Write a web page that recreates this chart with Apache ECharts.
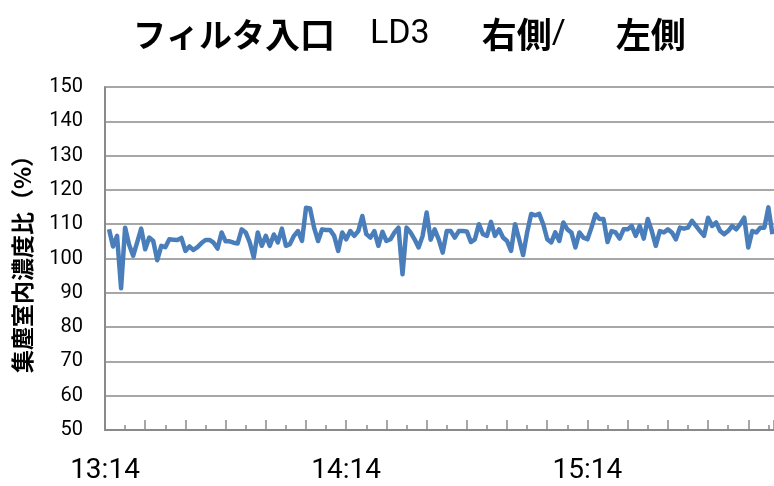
<!DOCTYPE html>
<html>
<head>
<meta charset="utf-8">
<script src="https://cdn.jsdelivr.net/npm/echarts@6/dist/echarts.min.js"></script>
<style>
  html, body { margin: 0; padding: 0; background: #fff; }
  #chart { width: 774px; height: 486px; }
</style>
</head>
<body>
<div id="chart"></div>
<script>
// 開始時刻 13:14 から 1 分ごとのサンプル（1 分目から）
var startHour = 13;
var startMinute = 14;
var firstSample = 1;
var ratio = [
  108.5, 103.5, 106.6, 91.3, 109, 104, 100.8, 104.7, 108.7, 102.7,
  106.1, 105.1, 99.5, 103.7, 103.3, 105.6, 105.5, 105.4, 106, 102.2,
  103.5, 102.5, 103.3, 104.5, 105.4, 105.4, 104.6, 102.9, 107.6, 105,
  105, 104.6, 104.4, 108.5, 107.6, 104.7, 100.3, 107.6, 103.7, 106.6,
  103.7, 107, 104.7, 108.7, 103.7, 104.2, 106.6, 108, 105.1, 114.8,
  114.6, 109, 105.1, 108.5, 108.3, 108.3, 106.6, 102.2, 107.6, 105.6,
  108, 106.6, 108, 112.4, 107.1, 106.1, 108, 103.7, 107.8, 105.1,
  105.6, 107.6, 109, 95.4, 109, 107.6, 105.6, 103.2, 106.6, 113.4,
  105.5, 108.5, 105.6, 101.7, 108, 108, 106.1, 108, 108, 107.9,
  104.8, 105.6, 110, 107.1, 106.6, 110.7, 106.6, 108.5, 106.1, 105.1,
  102.2, 110, 105.6, 101, 107.6, 113, 112.6, 113, 110, 105.6,
  104.7, 107.6, 105.1, 110.5, 108.5, 107.6, 103.2, 107.6, 106.1, 105.6,
  109, 112.9, 111.5, 111.5, 104.8, 108, 107.6, 105.8, 108.5, 108.5,
  109.5, 106.6, 109.5, 105.8, 111.5, 108, 103.7, 108, 107.6, 108.5,
  107.6, 105.6, 109, 108.7, 109, 111, 109.5, 108, 106.6, 111.9,
  109.5, 110.5, 108, 107.1, 108, 109.5, 108.5, 110, 111.9, 103.2,
  108, 107.6, 109, 109, 114.9, 107.1
];
var timeLabels = [0, 60, 120];

var seriesData = ratio.map(function (v, i) {
  return [firstSample + i, v];
});

function fmtTime(m) {
  var total = startHour * 60 + startMinute + m;
  var h = Math.floor(total / 60);
  var mm = total % 60;
  return h + ':' + (mm < 10 ? '0' + mm : mm);
}

var chart = echarts.init(document.getElementById('chart'));
var narrow = '"Liberation Sans Narrow", "Roboto", sans-serif';
var jp = '"Noto Sans CJK JP", sans-serif';

chart.setOption({
  animation: false,
  title: {
    text: '{k|フィルタ}{b|入口}{n|LD3}{b|右側}{s|/}{c|左側}',
    left: 128,
    top: 12,
    textStyle: {
      rich: {
        k: { fontFamily: jp, fontWeight: 'bold', fontSize: 33, color: '#000' },
        b: { fontFamily: jp, fontWeight: 'bold', fontSize: 35, color: '#000' },
        n: { fontFamily: narrow, fontWeight: 'normal', fontSize: 34, color: '#000', padding: [0, 52, 0, 35] },
        s: { fontFamily: narrow, fontWeight: 'normal', fontSize: 34, color: '#000' },
        c: { fontFamily: jp, fontWeight: 'bold', fontSize: 35, color: '#000', padding: [0, 0, 0, 50] }
      }
    }
  },
  grid: {
    left: 105,
    right: 0,
    top: 87,
    bottom: 56
  },
  xAxis: {
    type: 'value',
    min: 0,
    max: 166.4,
    interval: 10,
    axisLine: { lineStyle: { color: '#8a8a8a', width: 2 } },
    axisTick: { inside: true, length: 10, lineStyle: { color: '#8a8a8a', width: 1.5 } },
    minorTick: { show: true, splitNumber: 2, length: 5, lineStyle: { color: '#8a8a8a', width: 1.5 } },
    splitLine: { show: false },
    axisLabel: {
      margin: 27,
      fontFamily: narrow,
      fontSize: 28,
      color: '#000',
      showMaxLabel: false,
      formatter: function (v) {
        return timeLabels.indexOf(v) >= 0 ? fmtTime(v) : '';
      }
    }
  },
  yAxis: {
    type: 'value',
    min: 50,
    max: 150,
    interval: 10,
    name: '集塵室内濃度比（%）',
    nameLocation: 'middle',
    nameRotate: 90,
    nameGap: 71,
    nameTextStyle: { fontFamily: jp, fontWeight: 'bold', fontSize: 23, color: '#000' },
    axisLine: { show: true, lineStyle: { color: '#8a8a8a', width: 2 } },
    axisTick: { show: false },
    splitLine: { lineStyle: { color: '#8a8a8a', width: 1.5 } },
    axisLabel: {
      margin: 22,
      fontFamily: narrow,
      fontSize: 20,
      color: '#000'
    }
  },
  series: [{
    type: 'line',
    data: seriesData,
    showSymbol: false,
    lineStyle: { color: '#4a7ebb', width: 4.5, join: 'round' },
    itemStyle: { color: '#4a7ebb' }
  }]
});
</script>
</body>
</html>
